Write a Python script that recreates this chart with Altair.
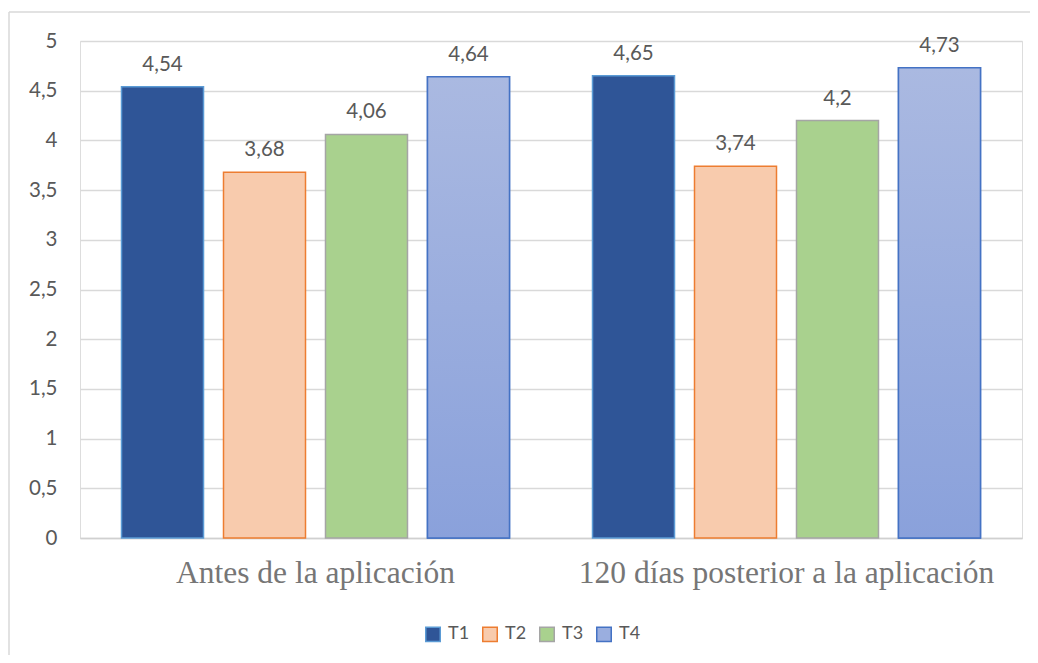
import altair as alt
import pandas as pd

groups = ["Antes de la aplicación", "120 días posterior a la aplicación"]
series = ["T1", "T2", "T3", "T4"]
values_antes = [4.54, 3.68, 4.06, 4.64]
values_120 = [4.65, 3.74, 4.2, 4.73]
fills = ["#2f5597", "#f8cbad", "#a9d18e", "#9aaedf"]
strokes = ["#5b9bd5", "#ed7d31", "#a5a5a5", "#4472c4"]
y_ticks = [0, 0.5, 1, 1.5, 2, 2.5, 3, 3.5, 4, 4.5, 5]

rows = []
for g, vals in zip(groups, [values_antes, values_120]):
    for s, v in zip(series, vals):
        rows.append({"grupo": g, "serie": s, "valor": v})
df = pd.DataFrame(rows)

FONT = "Lato"
W, H = 942, 497

base = alt.Chart(df).encode(
    x=alt.X("grupo:N", sort=groups, title=None,
            scale=alt.Scale(paddingInner=0, paddingOuter=0),
            axis=alt.Axis(labelFont="Liberation Serif", labelFontSize=31.5,
                          labelColor="#767676", labelAngle=0, labelPadding=19,
                          labelBaseline="top", labelLimit=0, ticks=False,
                          domainColor="#d0d0d0", domainWidth=1.5)),
    xOffset=alt.XOffset("serie:N", sort=series,
                        scale=alt.Scale(domain=series, paddingInner=0.196, paddingOuter=0.407)),
    y=alt.Y("valor:Q", title=None,
            scale=alt.Scale(domain=[0, 5], nice=False),
            axis=alt.Axis(values=y_ticks, labelExpr="replace(toString(datum.value), '.', ',')",
                          labelFont=FONT, labelFontSize=20.5, labelColor="#595959",
                          labelPadding=23, ticks=False, domain=False,
                          gridColor="#d9d9d9", gridWidth=1.5)),
)

bars = base.mark_bar(strokeWidth=1.5).encode(
    fill=alt.Fill("serie:N", sort=series, scale=alt.Scale(domain=series, range=fills),
                  legend=alt.Legend(title=None, orient="none", direction="horizontal",
                                    legendX=344, legendY=584, symbolType="square",
                                    symbolSize=210, symbolStrokeWidth=1.5,
                                    labelFont=FONT, labelFontSize=18, labelColor="#595959",
                                    columnPadding=9, labelOffset=6)),
    stroke=alt.Stroke("serie:N", sort=series, scale=alt.Scale(domain=series, range=strokes)),
)

grad = alt.Gradient(gradient="linear", x1=0, y1=0, x2=0, y2=1,
                    stops=[alt.GradientStop(color="#aab9e1", offset=0),
                           alt.GradientStop(color="#8aa1db", offset=1)])
t4 = base.transform_filter(alt.datum.serie == "T4").mark_bar(
    fill=grad, stroke="#4472c4", strokeWidth=1.5)

labels = base.transform_calculate(
    lab="replace(toString(datum.valor), '.', ',')"
).mark_text(baseline="bottom", dy=-12, font=FONT, fontSize=20.5, color="#595959").encode(
    text="lab:N")

frame_left = alt.Chart(pd.DataFrame({"a": [0]})).mark_rule(
    color="#d9d9d9", strokeWidth=1.5, clip=False).encode(
    x=alt.value(-71), y=alt.value(-29), y2=alt.value(H + 130))
frame_top = alt.Chart(pd.DataFrame({"a": [0]})).mark_rule(
    color="#d9d9d9", strokeWidth=1.5, clip=False).encode(
    y=alt.value(-29), x=alt.value(-71), x2=alt.value(W + 30))

chart = alt.layer(bars, t4, labels, frame_left, frame_top).properties(
    width=W, height=H,
    autosize=alt.AutoSizeParams(type="none"),
    padding={"left": 72, "top": 33, "right": 8, "bottom": 117},
).configure_view(stroke=None).configure(background="white")

chart.save("out.html", embed_options={"renderer": "svg", "actions": False})
